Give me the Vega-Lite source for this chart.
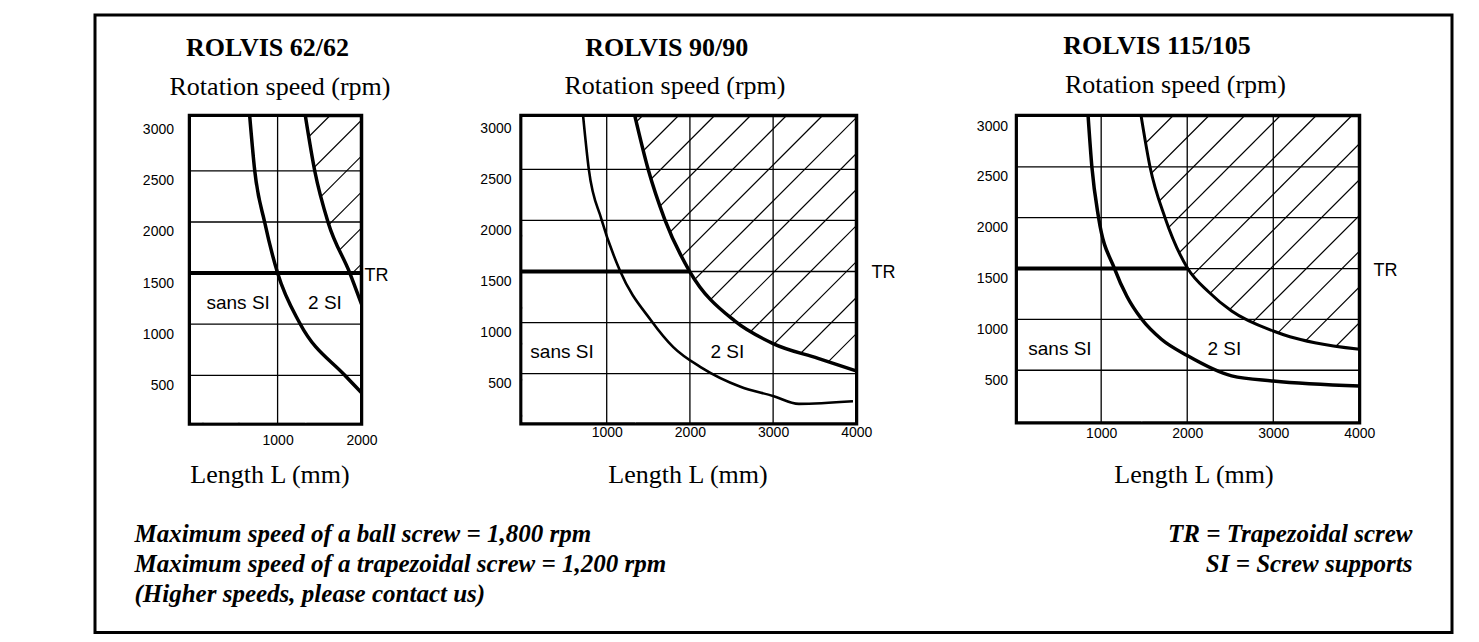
{
  "$schema": "https://vega.github.io/schema/vega-lite/v6.json",
  "background": "white",
  "padding": {"left": 92, "top": 13, "right": 0, "bottom": 0},
  "datasets": {
    "curves": [
      {"panel": 1, "series": "A", "x": 667, "y": 3042}, {"panel": 1, "series": "A", "x": 728, "y": 2499}, {"panel": 1, "series": "A", "x": 847, "y": 1993}, {"panel": 1, "series": "A", "x": 1000, "y": 1500}, {"panel": 1, "series": "A", "x": 1265, "y": 1009}, {"panel": 1, "series": "A", "x": 1801, "y": 500}, {"panel": 1, "series": "A", "x": 2000, "y": 330},
      {"panel": 1, "series": "B", "x": 1330, "y": 3042}, {"panel": 1, "series": "B", "x": 1443, "y": 2499}, {"panel": 1, "series": "B", "x": 1603, "y": 1993}, {"panel": 1, "series": "B", "x": 1861, "y": 1500}, {"panel": 1, "series": "B", "x": 2000, "y": 1195},
      {"panel": 2, "series": "A", "x": 716, "y": 3026}, {"panel": 2, "series": "A", "x": 785, "y": 2500}, {"panel": 2, "series": "A", "x": 937, "y": 2011}, {"panel": 2, "series": "A", "x": 1157, "y": 1512}, {"panel": 2, "series": "A", "x": 1538, "y": 1016}, {"panel": 2, "series": "A", "x": 1800, "y": 760}, {"panel": 2, "series": "A", "x": 2138, "y": 560}, {"panel": 2, "series": "A", "x": 2600, "y": 375}, {"panel": 2, "series": "A", "x": 2999, "y": 282}, {"panel": 2, "series": "A", "x": 3310, "y": 205}, {"panel": 2, "series": "A", "x": 3960, "y": 230},
      {"panel": 2, "series": "B", "x": 1337, "y": 3026}, {"panel": 2, "series": "B", "x": 1498, "y": 2500}, {"panel": 2, "series": "B", "x": 1697, "y": 2011}, {"panel": 2, "series": "B", "x": 1998, "y": 1500}, {"panel": 2, "series": "B", "x": 2538, "y": 1016}, {"panel": 2, "series": "B", "x": 2999, "y": 795}, {"panel": 2, "series": "B", "x": 3540, "y": 650}, {"panel": 2, "series": "B", "x": 4002, "y": 526},
      {"panel": 3, "series": "A", "x": 846, "y": 3027}, {"panel": 3, "series": "A", "x": 892, "y": 2499}, {"panel": 3, "series": "A", "x": 970, "y": 2000}, {"panel": 3, "series": "A", "x": 1155, "y": 1500}, {"panel": 3, "series": "A", "x": 1300, "y": 1225}, {"panel": 3, "series": "A", "x": 1472, "y": 1001}, {"panel": 3, "series": "A", "x": 1700, "y": 805}, {"panel": 3, "series": "A", "x": 2000, "y": 645}, {"panel": 3, "series": "A", "x": 2516, "y": 445}, {"panel": 3, "series": "A", "x": 3000, "y": 394}, {"panel": 3, "series": "A", "x": 4002, "y": 345},
      {"panel": 3, "series": "B", "x": 1459, "y": 3027}, {"panel": 3, "series": "B", "x": 1568, "y": 2499}, {"panel": 3, "series": "B", "x": 1742, "y": 2000}, {"panel": 3, "series": "B", "x": 2006, "y": 1500}, {"panel": 3, "series": "B", "x": 2250, "y": 1270}, {"panel": 3, "series": "B", "x": 2516, "y": 1083}, {"panel": 3, "series": "B", "x": 3000, "y": 886}, {"panel": 3, "series": "B", "x": 3193, "y": 830}, {"panel": 3, "series": "B", "x": 3483, "y": 771}, {"panel": 3, "series": "B", "x": 4002, "y": 706}
    ],
    "mask": [
      {"panel": 1, "x": 1332, "y": 3027}, {"panel": 1, "x": 1443, "y": 2499}, {"panel": 1, "x": 1603, "y": 1993}, {"panel": 1, "x": 1861, "y": 1500}, {"panel": 1, "x": 1982, "y": 1234},
      {"panel": 2, "x": 1339, "y": 3011.7}, {"panel": 2, "x": 1498, "y": 2500}, {"panel": 2, "x": 1697, "y": 2011}, {"panel": 2, "x": 1998, "y": 1500}, {"panel": 2, "x": 2538, "y": 1016}, {"panel": 2, "x": 2999, "y": 795}, {"panel": 2, "x": 3540, "y": 650}, {"panel": 2, "x": 3984, "y": 531},
      {"panel": 3, "x": 1467, "y": 2990}, {"panel": 3, "x": 1568, "y": 2499}, {"panel": 3, "x": 1742, "y": 2000}, {"panel": 3, "x": 2006, "y": 1500}, {"panel": 3, "x": 2250, "y": 1270}, {"panel": 3, "x": 2516, "y": 1083}, {"panel": 3, "x": 3000, "y": 886}, {"panel": 3, "x": 3193, "y": 830}, {"panel": 3, "x": 3483, "y": 771}, {"panel": 3, "x": 3985, "y": 707}
    ],
    "maskRect": [
      {"panel": 1, "x": -32, "x2": 1342, "y": 38.5, "y2": 3027},
      {"panel": 2, "x": -12, "x2": 1350, "y": 25.5, "y2": 3011.7},
      {"panel": 3, "x": 33, "x2": 1478, "y": -1, "y2": 2990}
    ],
    "hatch": [
      {"panel": 1, "x": 1625, "y": 3042, "x2": -2052, "y2": 23.5}, {"panel": 1, "x": 2054, "y": 3042, "x2": -1623, "y2": 23.5}, {"panel": 1, "x": 2483, "y": 3042, "x2": -1194, "y2": 23.5}, {"panel": 1, "x": 2912, "y": 3042, "x2": -765, "y2": 23.5}, {"panel": 1, "x": 3341, "y": 3042, "x2": -336, "y2": 23.5}, {"panel": 1, "x": 3770, "y": 3042, "x2": 93, "y2": 23.5}, {"panel": 1, "x": 4199, "y": 3042, "x2": 522, "y2": 23.5},
      {"panel": 2, "x": 1432, "y": 3026.4, "x2": -2269, "y2": 10.8}, {"panel": 2, "x": 1864, "y": 3026.4, "x2": -1837, "y2": 10.8}, {"panel": 2, "x": 2297, "y": 3026.4, "x2": -1404, "y2": 10.8}, {"panel": 2, "x": 2729, "y": 3026.4, "x2": -972, "y2": 10.8}, {"panel": 2, "x": 3161, "y": 3026.4, "x2": -540, "y2": 10.8}, {"panel": 2, "x": 3594, "y": 3026.4, "x2": -107, "y2": 10.8}, {"panel": 2, "x": 4026, "y": 3026.4, "x2": 325, "y2": 10.8}, {"panel": 2, "x": 4458, "y": 3026.4, "x2": 757, "y2": 10.8}, {"panel": 2, "x": 4890, "y": 3026.4, "x2": 1189, "y2": 10.8}, {"panel": 2, "x": 5323, "y": 3026.4, "x2": 1622, "y2": 10.8}, {"panel": 2, "x": 5755, "y": 3026.4, "x2": 2054, "y2": 10.8}, {"panel": 2, "x": 6187, "y": 3026.4, "x2": 2486, "y2": 10.8}, {"panel": 2, "x": 6620, "y": 3026.4, "x2": 2919, "y2": 10.8}, {"panel": 2, "x": 7052, "y": 3026.4, "x2": 3351, "y2": 10.8},
      {"panel": 3, "x": 1837, "y": 3005, "x2": -1727, "y2": -15.7}, {"panel": 3, "x": 2253, "y": 3005, "x2": -1311, "y2": -15.7}, {"panel": 3, "x": 2668, "y": 3005, "x2": -896, "y2": -15.7}, {"panel": 3, "x": 3083, "y": 3005, "x2": -481, "y2": -15.7}, {"panel": 3, "x": 3499, "y": 3005, "x2": -65, "y2": -15.7}, {"panel": 3, "x": 3914, "y": 3005, "x2": 350, "y2": -15.7}, {"panel": 3, "x": 4329, "y": 3005, "x2": 765, "y2": -15.7}, {"panel": 3, "x": 4745, "y": 3005, "x2": 1181, "y2": -15.7}, {"panel": 3, "x": 5160, "y": 3005, "x2": 1596, "y2": -15.7}, {"panel": 3, "x": 5575, "y": 3005, "x2": 2011, "y2": -15.7}, {"panel": 3, "x": 5990, "y": 3005, "x2": 2426, "y2": -15.7}, {"panel": 3, "x": 6406, "y": 3005, "x2": 2842, "y2": -15.7}
    ],
    "gridV": [
      {"panel": 1, "x": 1000, "y": 23.5, "y2": 3042},
      {"panel": 2, "x": 1000, "y": 10.8, "y2": 3026.4}, {"panel": 2, "x": 2000, "y": 10.8, "y2": 3026.4}, {"panel": 2, "x": 3000, "y": 10.8, "y2": 3026.4},
      {"panel": 3, "x": 1000, "y": -15.7, "y2": 3005}, {"panel": 3, "x": 2000, "y": -15.7, "y2": 3005}, {"panel": 3, "x": 3000, "y": -15.7, "y2": 3005}
    ],
    "gridH": [
      {"panel": 1, "y": 500, "x": -50, "x2": 2000}, {"panel": 1, "y": 1000, "x": -50, "x2": 2000}, {"panel": 1, "y": 1500, "x": -50, "x2": 2000}, {"panel": 1, "y": 2000, "x": -50, "x2": 2000}, {"panel": 1, "y": 2500, "x": -50, "x2": 2000},
      {"panel": 2, "y": 500, "x": -30, "x2": 4002}, {"panel": 2, "y": 1000, "x": -30, "x2": 4002}, {"panel": 2, "y": 1500, "x": -30, "x2": 4002}, {"panel": 2, "y": 2000, "x": -30, "x2": 4002}, {"panel": 2, "y": 2500, "x": -30, "x2": 4002},
      {"panel": 3, "y": 500, "x": 16, "x2": 4002}, {"panel": 3, "y": 1000, "x": 16, "x2": 4002}, {"panel": 3, "y": 1500, "x": 16, "x2": 4002}, {"panel": 3, "y": 2000, "x": 16, "x2": 4002}, {"panel": 3, "y": 2500, "x": 16, "x2": 4002}
    ],
    "tr": [
      {"panel": 1, "x": -50, "x2": 2000, "y": 1500},
      {"panel": 2, "x": -30, "x2": 1998, "y": 1500},
      {"panel": 3, "x": 16, "x2": 2006, "y": 1500}
    ],
    "labels": [
      {"panel": 1, "x": 530, "y": 1146, "label": "sans SI"}, {"panel": 1, "x": 1565, "y": 1146, "label": "2 SI"}, {"panel": 1, "x": 2000, "y": 1500, "label": "TR"},
      {"panel": 2, "x": 463, "y": 651, "label": "sans SI"}, {"panel": 2, "x": 2450, "y": 651, "label": "2 SI"}, {"panel": 2, "x": 4002, "y": 1500, "label": "TR"},
      {"panel": 3, "x": 521, "y": 650, "label": "sans SI"}, {"panel": 3, "x": 2432, "y": 650, "label": "2 SI"}, {"panel": 3, "x": 4002, "y": 1500, "label": "TR"}
    ],
    "notes": [
      {"side": "left", "line": 1, "text": "Maximum speed of a ball screw = 1,800 rpm"},
      {"side": "left", "line": 2, "text": "Maximum speed of a trapezoidal screw = 1,200 rpm"},
      {"side": "left", "line": 3, "text": "(Higher speeds, please contact us)"},
      {"side": "right", "line": 1, "text": "TR = Trapezoidal screw"},
      {"side": "right", "line": 2, "text": "SI = Screw supports"}
    ],
    "spacer": [{"k": 0}]
  },
  "config": {
    "view": {"stroke": "black", "strokeWidth": 3.5},
    "axis": {
      "grid": false,
      "ticks": false, "tickSize": 0, "domain": false, "format": "d",
      "labelFont": "Liberation Sans", "labelFontSize": 14, "labelColor": "black",
      "labelFlush": false, "labelOverlap": false,
      "titleFont": "Liberation Serif", "titleFontSize": 26, "titleFontWeight": "normal", "titleColor": "black",
      "titleAngle": 0, "titleAlign": "center", "titleBaseline": "alphabetic",
      "zindex": 1
    },
    "title": {"font": "Liberation Serif", "fontSize": 26, "fontWeight": "bold", "color": "black", "anchor": "middle", "frame": "group", "baseline": "alphabetic", "offset": 12}
  },
  "vconcat": [
    {
      "width": 1357, "height": 617.5,
      "view": {"stroke": "black", "strokeWidth": 3},
      "data": {"name": "notes"},
      "encoding": {
        "x": {"field": "side", "type": "nominal", "scale": {"type": "point", "domain": ["left", "right"], "padding": 0.0309}, "axis": null},
        "y": {"field": "line", "type": "quantitative", "scale": {"domain": [-16.57, 4.01], "reverse": true, "nice": false, "zero": false}, "axis": null},
        "text": {"field": "text"}
      },
      "layer": [
        {"transform": [{"filter": "datum.side === 'left'"}], "mark": {"type": "text", "align": "left", "baseline": "alphabetic", "font": "Liberation Serif", "fontSize": 25, "fontStyle": "italic", "fontWeight": "bold", "color": "black"}},
        {"transform": [{"filter": "datum.side === 'right'"}], "mark": {"type": "text", "align": "right", "baseline": "alphabetic", "font": "Liberation Serif", "fontSize": 25, "fontStyle": "italic", "fontWeight": "bold", "color": "black"}}
      ]
    },
    {
      "bounds": "flush",
      "spacing": 93.5,
      "hconcat": [
        {"width": 1, "height": 1, "view": {"stroke": null}, "data": {"name": "spacer"}, "mark": {"type": "point", "opacity": 0}},
        {
          "bounds": "flush",
          "spacing": 159.5,
          "hconcat": [
            {
              "width": 172, "height": 308.5,
              "title": {"text": "ROLVIS 62/62", "dx": -8},
              "encoding": {
                "x": {"field": "x", "type": "quantitative", "scale": {"domain": [-50, 2000], "nice": false, "zero": false},
                      "axis": {"values": [1000, 2000], "labelPadding": 9, "title": "Length L (mm)", "titleX": 80, "titleY": 58.7}},
                "y": {"field": "y", "type": "quantitative", "scale": {"domain": [23.5, 3042], "nice": false, "zero": false},
                      "axis": {"values": [500, 1000, 1500, 2000, 2500, 3000], "labelPadding": 16, "labelOffset": 10, "title": "Rotation speed (rpm)", "titleX": 90, "titleY": -21.5}}
              },
              "layer": [
                {"data": {"name": "hatch"}, "transform": [{"filter": "datum.panel === 1"}], "mark": {"type": "rule", "clip": true, "strokeWidth": 1.2, "color": "black"}, "encoding": {"x2": {"field": "x2"}, "y2": {"field": "y2"}}},
                {"data": {"name": "maskRect"}, "transform": [{"filter": "datum.panel === 1"}], "mark": {"type": "rect", "fill": "white", "clip": true}, "encoding": {"x2": {"field": "x2"}, "y2": {"field": "y2"}}},
                {"data": {"name": "mask"}, "transform": [{"filter": "datum.panel === 1"}], "mark": {"type": "area", "fill": "white", "interpolate": "monotone", "clip": true}, "encoding": {"y2": {"datum": 38.5}}},
                {"data": {"name": "gridV"}, "transform": [{"filter": "datum.panel === 1"}], "mark": {"type": "rule", "strokeWidth": 1.3, "color": "black", "clip": true}, "encoding": {"y2": {"field": "y2"}}},
                {"data": {"name": "gridH"}, "transform": [{"filter": "datum.panel === 1"}], "mark": {"type": "rule", "strokeWidth": 1.3, "color": "black", "clip": true}, "encoding": {"x2": {"field": "x2"}}},
                {"data": {"name": "tr"}, "transform": [{"filter": "datum.panel === 1"}], "mark": {"type": "rule", "strokeWidth": 4, "color": "black", "clip": true}, "encoding": {"x2": {"field": "x2"}}},
                {"data": {"name": "curves"}, "transform": [{"filter": "datum.panel === 1 && datum.series === 'A'"}], "mark": {"type": "line", "interpolate": "monotone", "clip": true, "strokeWidth": 3.5, "color": "black"}, "encoding": {}},
                {"data": {"name": "curves"}, "transform": [{"filter": "datum.panel === 1 && datum.series === 'B'"}], "mark": {"type": "line", "interpolate": "monotone", "clip": true, "strokeWidth": 3.5, "color": "black"}, "encoding": {}},
                {"data": {"name": "labels"}, "transform": [{"filter": "datum.panel === 1 && datum.label !== 'TR'"}], "mark": {"type": "text", "font": "Liberation Sans", "fontSize": 19, "align": "center", "baseline": "alphabetic", "color": "black"}, "encoding": {"text": {"field": "label"}}},
                {"data": {"name": "labels"}, "transform": [{"filter": "datum.panel === 1 && datum.label === 'TR'"}], "mark": {"type": "text", "font": "Liberation Sans", "fontSize": 18, "align": "left", "baseline": "middle", "dx": 3, "dy": 3, "color": "black"}, "encoding": {"text": {"field": "label"}}}
              ]
            },
            {
              "width": 335.5, "height": 308.2,
              "title": {"text": "ROLVIS 90/90", "dx": -22},
              "encoding": {
                "x": {"field": "x", "type": "quantitative", "scale": {"domain": [-30, 4002], "nice": false, "zero": false},
                      "axis": {"values": [1000, 2000, 3000, 4000], "labelPadding": 2, "title": "Length L (mm)", "titleX": 166.5, "titleY": 59}},
                "y": {"field": "y", "type": "quantitative", "scale": {"domain": [10.8, 3026.4], "nice": false, "zero": false},
                      "axis": {"values": [500, 1000, 1500, 2000, 2500, 3000], "labelPadding": 10, "labelOffset": 10, "title": "Rotation speed (rpm)", "titleX": 153.5, "titleY": -21.8}}
              },
              "layer": [
                {"data": {"name": "hatch"}, "transform": [{"filter": "datum.panel === 2"}], "mark": {"type": "rule", "clip": true, "strokeWidth": 1.2, "color": "black"}, "encoding": {"x2": {"field": "x2"}, "y2": {"field": "y2"}}},
                {"data": {"name": "maskRect"}, "transform": [{"filter": "datum.panel === 2"}], "mark": {"type": "rect", "fill": "white", "clip": true}, "encoding": {"x2": {"field": "x2"}, "y2": {"field": "y2"}}},
                {"data": {"name": "mask"}, "transform": [{"filter": "datum.panel === 2"}], "mark": {"type": "area", "fill": "white", "interpolate": "monotone", "clip": true}, "encoding": {"y2": {"datum": 25.5}}},
                {"data": {"name": "gridV"}, "transform": [{"filter": "datum.panel === 2"}], "mark": {"type": "rule", "strokeWidth": 1.3, "color": "black", "clip": true}, "encoding": {"y2": {"field": "y2"}}},
                {"data": {"name": "gridH"}, "transform": [{"filter": "datum.panel === 2"}], "mark": {"type": "rule", "strokeWidth": 1.3, "color": "black", "clip": true}, "encoding": {"x2": {"field": "x2"}}},
                {"data": {"name": "tr"}, "transform": [{"filter": "datum.panel === 2"}], "mark": {"type": "rule", "strokeWidth": 4, "color": "black", "clip": true}, "encoding": {"x2": {"field": "x2"}}},
                {"data": {"name": "curves"}, "transform": [{"filter": "datum.panel === 2 && datum.series === 'A'"}], "mark": {"type": "line", "interpolate": "monotone", "clip": true, "strokeWidth": 2.6, "color": "black"}, "encoding": {}},
                {"data": {"name": "curves"}, "transform": [{"filter": "datum.panel === 2 && datum.series === 'B'"}], "mark": {"type": "line", "interpolate": "monotone", "clip": true, "strokeWidth": 3.5, "color": "black"}, "encoding": {}},
                {"data": {"name": "labels"}, "transform": [{"filter": "datum.panel === 2 && datum.label !== 'TR'"}], "mark": {"type": "text", "font": "Liberation Sans", "fontSize": 19, "align": "center", "baseline": "alphabetic", "color": "black"}, "encoding": {"text": {"field": "label"}}},
                {"data": {"name": "labels"}, "transform": [{"filter": "datum.panel === 2 && datum.label === 'TR'"}], "mark": {"type": "text", "font": "Liberation Sans", "fontSize": 18, "align": "left", "baseline": "middle", "dx": 15, "dy": 1, "color": "black"}, "encoding": {"text": {"field": "label"}}}
              ]
            },
            {
              "width": 343, "height": 307.2,
              "title": {"text": "ROLVIS 115/105", "dx": -31},
              "encoding": {
                "x": {"field": "x", "type": "quantitative", "scale": {"domain": [16, 4002], "nice": false, "zero": false},
                      "axis": {"values": [1000, 2000, 3000, 4000], "labelPadding": 4, "title": "Length L (mm)", "titleX": 177, "titleY": 60}},
                "y": {"field": "y", "type": "quantitative", "scale": {"domain": [-15.7, 3005], "nice": false, "zero": false},
                      "axis": {"values": [500, 1000, 1500, 2000, 2500, 3000], "labelPadding": 9, "labelOffset": 10, "title": "Rotation speed (rpm)", "titleX": 158.5, "titleY": -23.5}}
              },
              "layer": [
                {"data": {"name": "hatch"}, "transform": [{"filter": "datum.panel === 3"}], "mark": {"type": "rule", "clip": true, "strokeWidth": 1.2, "color": "black"}, "encoding": {"x2": {"field": "x2"}, "y2": {"field": "y2"}}},
                {"data": {"name": "maskRect"}, "transform": [{"filter": "datum.panel === 3"}], "mark": {"type": "rect", "fill": "white", "clip": true}, "encoding": {"x2": {"field": "x2"}, "y2": {"field": "y2"}}},
                {"data": {"name": "mask"}, "transform": [{"filter": "datum.panel === 3"}], "mark": {"type": "area", "fill": "white", "interpolate": "monotone", "clip": true}, "encoding": {"y2": {"datum": -1}}},
                {"data": {"name": "gridV"}, "transform": [{"filter": "datum.panel === 3"}], "mark": {"type": "rule", "strokeWidth": 1.3, "color": "black", "clip": true}, "encoding": {"y2": {"field": "y2"}}},
                {"data": {"name": "gridH"}, "transform": [{"filter": "datum.panel === 3"}], "mark": {"type": "rule", "strokeWidth": 1.3, "color": "black", "clip": true}, "encoding": {"x2": {"field": "x2"}}},
                {"data": {"name": "tr"}, "transform": [{"filter": "datum.panel === 3"}], "mark": {"type": "rule", "strokeWidth": 4, "color": "black", "clip": true}, "encoding": {"x2": {"field": "x2"}}},
                {"data": {"name": "curves"}, "transform": [{"filter": "datum.panel === 3 && datum.series === 'A'"}], "mark": {"type": "line", "interpolate": "monotone", "clip": true, "strokeWidth": 3.5, "color": "black"}, "encoding": {}},
                {"data": {"name": "curves"}, "transform": [{"filter": "datum.panel === 3 && datum.series === 'B'"}], "mark": {"type": "line", "interpolate": "monotone", "clip": true, "strokeWidth": 3, "color": "black"}, "encoding": {}},
                {"data": {"name": "labels"}, "transform": [{"filter": "datum.panel === 3 && datum.label !== 'TR'"}], "mark": {"type": "text", "font": "Liberation Sans", "fontSize": 19, "align": "center", "baseline": "alphabetic", "color": "black"}, "encoding": {"text": {"field": "label"}}},
                {"data": {"name": "labels"}, "transform": [{"filter": "datum.panel === 3 && datum.label === 'TR'"}], "mark": {"type": "text", "font": "Liberation Sans", "fontSize": 18, "align": "left", "baseline": "middle", "dx": 14, "dy": 2, "color": "black"}, "encoding": {"text": {"field": "label"}}}
              ]
            }
          ]
        }
      ]
    }
  ],
  "spacing": -603.5,
  "align": "none",
  "bounds": "full"
}
